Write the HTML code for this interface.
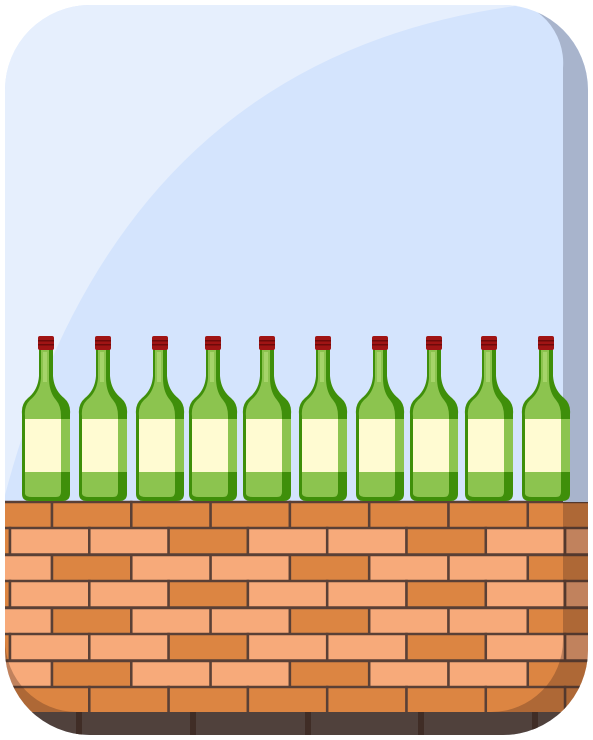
<!DOCTYPE html>
<html><head><meta charset="utf-8"><style>
html,body{margin:0;padding:0;background:#fff;width:593px;height:740px;overflow:hidden}
svg{display:block}
</style></head><body>
<svg id="s" width="593" height="740" viewBox="0 0 593 740" xmlns="http://www.w3.org/2000/svg">
<defs>
<clipPath id="card"><rect x="5" y="5" width="583" height="730" rx="85" ry="85"/></clipPath>
<clipPath id="skyclip"><rect x="0" y="0" width="593" height="502"/></clipPath>
<clipPath id="wallclip"><rect x="0" y="502" width="593" height="240"/></clipPath>
</defs>
<g clip-path="url(#card)" id="cardg">
<rect x="0" y="0" width="593" height="740" fill="#d4e4fd"/>
<path d="M0,0 L515,0 L515,6 Q120,60 5,495 L0,495 Z" fill="#e6effd"/>
<g id="bricks"></g>
<rect x="0" y="712" width="593" height="30" fill="#554d4b"/>
<g id="base-posts"></g>
<g clip-path="url(#wallclip)">
<path fill-rule="evenodd" fill="rgba(70,40,25,0.30)"
 d="M0,0 H593 V740 H0 Z M5,5 H500 A63,63 0 0 1 563,68 V640 A72,72 0 0 1 491,712 H77 A72,72 0 0 1 5,640 Z"/>
</g>
<g clip-path="url(#skyclip)">
<path fill-rule="evenodd" fill="#a8b4cc"
 d="M0,0 H593 V740 H0 Z M0,0 H500 A63,63 0 0 1 563,68 V640 A72,72 0 0 1 491,712 H77 A72,72 0 0 1 0,640 Z"/>
</g>
<g id="bottles"></g>
</g>
</svg>
<script>
const NS='http://www.w3.org/2000/svg';
const bottleCenters=[46,103,160,213,267,323,380,434,489,546];
const rowTops=[502,528,555,581,608,634,661,687];
function mk(tag,attrs,parent){const e=document.createElementNS(NS,tag);for(const k in attrs)e.setAttribute(k,attrs[k]);parent.appendChild(e);return e;}
const bg=document.getElementById('bricks');
const W=79.3,H=26.5;
rowTops.forEach((y,r)=>{
  const off=(r%2===0)?52-W:10-W;
  for(let i=0;i<9;i++){
    const x=off+i*W;
    let dark;
    if(r===0||r===7) dark=true;
    else if(r%2===1) dark=(i%3===0);
    else dark=(i%3===1);
    const b=mk('rect',{x:x,y:y,width:W,height:H,fill:dark?'#dc8542':'#f7aa7a',stroke:'#5a4036','stroke-width':2.5},bg);
    
    
  }
});
const bp=document.getElementById('base-posts');
[76,190,305,418,532].forEach(x=>{
  const p=mk('rect',{x:x,y:712,width:6,height:30,fill:'#3e302b'},bp);
  
  
});
const bt=document.getElementById('bottles');
bottleCenters.forEach(cx=>{
  const g=mk('g',{},bt);
  
  
  const outline=`M${cx-7},349 L${cx-7},376 Q${cx-8},390 ${cx-18},398 Q${cx-25},404 ${cx-24},414 L${cx-24},494 Q${cx-24},501 ${cx-16},501 L${cx+16},501 Q${cx+24},501 ${cx+24},494 L${cx+24},414 Q${cx+25},404 ${cx+18},398 Q${cx+8},390 ${cx+7},376 L${cx+7},349 Z`;
  mk('path',{d:outline,fill:'#3f8f0a'},g);
  const inner=`M${cx-5},349 L${cx-5},378 Q${cx-6},392 ${cx-16},400 Q${cx-22},406 ${cx-21},416 L${cx-21},494 Q${cx-20},497 ${cx-14},497 L${cx+10},497 Q${cx+15},497 ${cx+15},492 L${cx+15},416 Q${cx+15},406 ${cx+10},400 Q${cx+3},392 ${cx+3},378 L${cx+3},349 Z`;
  mk('path',{d:inner,fill:'#8cc44f'},g);
  mk('rect',{x:cx-3,y:352,width:4,height:30,fill:'#a6d46a'},g);
  const lab=mk('rect',{x:cx-21,y:419,width:36,height:53,fill:'#fffbd2'},g);
  
  
  mk('rect',{x:cx+15,y:419,width:9,height:53,fill:'#8cc44f'},g);
  const cap=mk('rect',{x:cx-8,y:336,width:16,height:14,rx:2,fill:'#a01414'},g);
  
  
  mk('rect',{x:cx-8,y:340,width:16,height:1.5,fill:'#6e0a0a'},g);
  mk('rect',{x:cx-8,y:344,width:16,height:1.5,fill:'#6e0a0a'},g);
});
</script>
</body></html>
